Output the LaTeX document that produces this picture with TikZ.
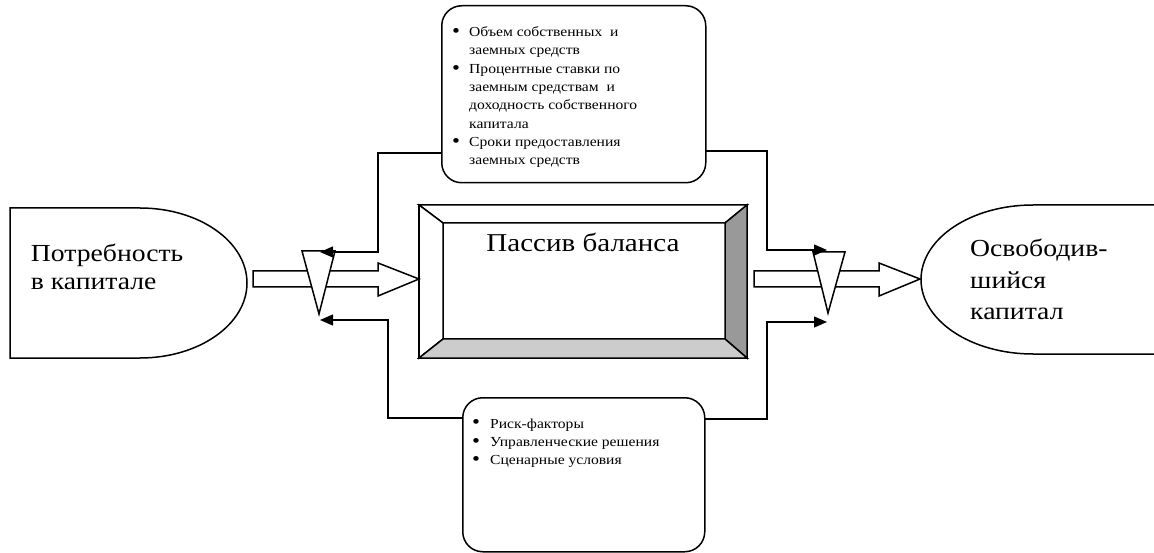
\documentclass[tikz,border=0pt]{standalone}
\usepackage{graphicx}
\usepackage{fontspec}
\setmainfont[FakeStretch=1.13]{Liberation Serif}
\usetikzlibrary{arrows.meta}
\newcommand{\bigbul}{\raisebox{-0.9pt}{\scalebox{1.45}{\textbullet}}}
\begin{document}
\begin{tikzpicture}[x=1pt,y=-1pt,line join=miter,
  shp/.style={draw,line width=1.5pt,fill=white},
  conn/.style={line width=1.3pt,-{Triangle[length=13pt,width=11pt]}},
  big/.style={font=\fontsize{24.5}{28.3}\selectfont,inner sep=0pt},
  small/.style={font=\fontsize{13.8}{18.3}\selectfont,inner sep=0pt},
  infobox/.style={draw,line width=1.5pt,fill=white,rounded corners=20pt,inner sep=0pt}]
\useasboundingbox (0,0) rectangle (1154,553);

% left shape
\draw[shp] (10,208) -- (140,208) .. controls (199.1,208) and (247,241.6) .. (247,283)
  .. controls (247,324.4) and (199.1,358) .. (140,358) -- (10,358) -- cycle;
\node[big,anchor=base west] (need) at (30.7,261.7)
  {\begin{tabular}[t]{@{}l@{}}Потребность\\в капитале\end{tabular}};

% right shape
\fill[white] (1154,205) -- (1033,205) .. controls (971.1,205) and (921,238.4) .. (921,279.5)
  .. controls (921,320.6) and (971.1,354) .. (1033,354) -- (1154,354) -- cycle;
\draw[line width=1.5pt] (1154,205) -- (1033,205) .. controls (971.1,205) and (921,238.4) .. (921,279.5)
  .. controls (921,320.6) and (971.1,354) .. (1033,354) -- (1154,354);
\node[big,font=\fontsize{24.5}{31.5}\selectfont,anchor=base west] (freed) at (970,257)
  {\begin{tabular}[t]{@{}l@{}}Освободив-\\шийся\\капитал\end{tabular}};

% main box
\coordinate (oTL) at (419,205); \coordinate (oTR) at (747,205);
\coordinate (oBR) at (747,358); \coordinate (oBL) at (419,358);
\coordinate (iTL) at (443,223); \coordinate (iTR) at (725,223);
\coordinate (iBR) at (725,339); \coordinate (iBL) at (443,339);
\draw[shp] (oTL) rectangle (oBR);
\filldraw[line width=1.5pt,fill=white] (oTL) -- (oTR) -- (iTR) -- (iTL) -- cycle;
\filldraw[line width=1.5pt,fill=white] (oTL) -- (iTL) -- (iBL) -- (oBL) -- cycle;
\filldraw[line width=1.5pt,fill=black!40] (oTR) -- (oBR) -- (iBR) -- (iTR) -- cycle;
\filldraw[line width=1.5pt,fill=black!20] (oBL) -- (oBR) -- (iBR) -- (iBL) -- cycle;
\node[big,font=\fontsize{25.7}{28.3}\selectfont,anchor=base] (bal) at (583,251.7) {Пассив баланса};

% hollow arrows
\draw[line width=1.5pt,fill=white] (253,271) -- (378,271) -- (378,263) -- (419,279)
  -- (378,296) -- (378,287) -- (253,287) -- cycle;
\draw[line width=1.5pt,fill=white] (754,271) -- (879,271) -- (879,263) -- (920,279)
  -- (879,296) -- (879,287) -- (754,287) -- cycle;

% triangles
\draw[line width=1.5pt,fill=white] (302,251) -- (335,251) -- (319,314) -- cycle;
\draw[line width=1.5pt,fill=white] (813,252) -- (845,252) -- (828,313) -- cycle;

% info boxes
\node[infobox,minimum width=264pt,minimum height=177pt,anchor=north west] (top) at (441,5) {};
\node[infobox,minimum width=242pt,minimum height=154pt,anchor=north west] (bot) at (462,397) {};
\node[small,anchor=base west] (toptext) at (452,36.7)
  {\begin{tabular}[t]{@{}p{17pt}@{}l@{}}
  \bigbul & Объем собственных\ \ и\\
  & заемных средств\\
  \bigbul & Процентные ставки\ по\\
  & заемным средствам\ \ и\\
  & доходность собственного\\
  & капитала\\
  \bigbul & Сроки предоставления\\
  & заемных средств
  \end{tabular}};
\node[small,anchor=base west] (bottext) at (472,428)
  {\begin{tabular}[t]{@{}p{18pt}@{}l@{}}
  \bigbul & Риск-факторы\\
  \bigbul & Управленческие решения\\
  \bigbul & Сценарные условия
  \end{tabular}};

% connector points
\coordinate (tl) at (441,153);
\coordinate (tr) at (705,151);
\coordinate (bl) at (462,418);
\coordinate (br) at (704,419);
\coordinate (ltu) at (320,252);
\coordinate (ltd) at (320,320);
\coordinate (rtu) at (827,250);
\coordinate (rtd) at (827,322);

\draw[conn] (tl) -- (378,153) -- (378,252) -- (ltu);
\draw[conn] (bl) -- (388,418) -- (388,320) -- (ltd);
\draw[conn] (tr) -- (767,151) -- (767,250) -- (rtu);
\draw[conn] (br) -- (767,419) -- (767,322) -- (rtd);
\end{tikzpicture}
\end{document}
